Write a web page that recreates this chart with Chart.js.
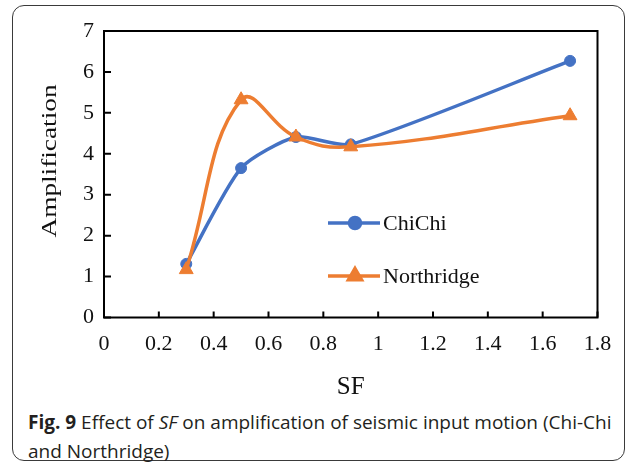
<!DOCTYPE html>
<html>
<head>
<meta charset="utf-8">
<script src="https://cdn.jsdelivr.net/npm/chart.js@4.4.0/dist/chart.umd.min.js"></script>
<style>
  html, body { margin: 0; padding: 0; width: 637px; height: 467px; background: #fff; overflow: hidden; }
  #frame { position: absolute; left: 12px; top: 5px; width: 611px; height: 454px;
           border: 1.5px solid #3a3a3a; border-radius: 12px; }
  #wrap { position: absolute; left: 0; top: 0; width: 637px; height: 404px; }
  #caption { position: absolute; left: 28px; top: 408px; width: 600px;
             font-family: "Open Sans", sans-serif; font-size: 19px; line-height: 29px; color: #231f20;
             white-space: nowrap; }
  #caption b { font-weight: 700; }
</style>
</head>
<body>
<div id="frame"></div>
<div id="wrap"><canvas id="c" width="637" height="404"></canvas></div>
<div id="caption"><b>Fig. 9</b> Effect of <i>SF</i> on amplification of seismic input motion (Chi-Chi<br>and Northridge)</div>
<script>
const sfValues = [0.3, 0.5, 0.7, 0.9, 1.7];
const chichi = [1.31, 3.65, 4.41, 4.23, 6.27];
const northridge = [1.17, 5.32, 4.41, 4.17, 4.93];
const xTickLabels = ["0", "0.2", "0.4", "0.6", "0.8", "1", "1.2", "1.4", "1.6", "1.8"];
const yTickLabels = ["0", "1", "2", "3", "4", "5", "6", "7"];
const seriesNames = ["ChiChi", "Northridge"];
const xTitle = "SF";
const yTitle = "Amplification";

const BLUE = "#4472C4";
const ORANGE = "#ED7D31";
const SERIF = "'Liberation Serif', 'Times New Roman', serif";

const frameAndLegend = {
  id: "frameAndLegend",
  beforeDatasetsDraw(chart) {
    const { ctx, chartArea: a, scales } = chart;
    ctx.save();
    ctx.strokeStyle = "#000";
    ctx.lineWidth = 2;
    // inward tick marks
    ctx.beginPath();
    scales.x.ticks.forEach(t => {
      const px = scales.x.getPixelForValue(t.value);
      ctx.moveTo(px, a.bottom);
      ctx.lineTo(px, a.bottom - 6);
    });
    scales.y.ticks.forEach(t => {
      const py = scales.y.getPixelForValue(t.value);
      ctx.moveTo(a.left, py);
      ctx.lineTo(a.left + 7, py);
    });
    ctx.stroke();
    ctx.strokeRect(a.left, a.top, a.right - a.left, a.bottom - a.top);
    // y title (stretched along its length like the reference)
    ctx.fillStyle = "#111";
    ctx.font = "21px " + SERIF;
    ctx.textAlign = "center";
    ctx.textBaseline = "middle";
    ctx.translate(50, 161);
    ctx.rotate(-Math.PI / 2);
    ctx.scale(1.3, 1);
    ctx.fillText(yTitle, 0, 0);
    ctx.restore();
  },
  afterDatasetsDraw(chart) {
    const { ctx } = chart;
    const items = [
      { name: seriesNames[0], color: BLUE, style: "circle", r: 5.5, y: 223 },
      { name: seriesNames[1], color: ORANGE, style: "triangle", r: 7.5, y: 276 }
    ];
    ctx.save();
    items.forEach(it => {
      ctx.strokeStyle = it.color;
      ctx.lineWidth = 3.5;
      ctx.beginPath();
      ctx.moveTo(328, it.y);
      ctx.lineTo(380, it.y);
      ctx.stroke();
      ctx.fillStyle = it.color;
      Chart.helpers.drawPoint(ctx, { pointStyle: it.style, radius: it.r, borderWidth: 1, rotation: 0 }, 355, it.y);
      ctx.fill();
      ctx.fillStyle = "#111";
      ctx.font = "22px " + SERIF;
      ctx.textAlign = "left";
      ctx.textBaseline = "middle";
      ctx.fillText(it.name, 383, it.y + 1);
    });
    ctx.restore();
  }
};

new Chart(document.getElementById("c"), {
  type: "line",
  data: {
    datasets: [
      {
        label: seriesNames[0],
        data: sfValues.map((x, i) => ({ x, y: chichi[i] })),
        borderColor: BLUE, backgroundColor: BLUE,
        borderWidth: 3.5, pointStyle: "circle", pointRadius: 5.5,
        pointBorderWidth: 1, tension: 0.22, order: 2
      },
      {
        label: seriesNames[1],
        data: sfValues.map((x, i) => ({ x, y: northridge[i] })),
        borderColor: ORANGE, backgroundColor: ORANGE,
        borderWidth: 3.5, pointStyle: "triangle", pointRadius: 8,
        pointBorderWidth: 1, tension: 0.42, order: 1
      }
    ]
  },
  options: {
    responsive: false,
    animation: false,
    events: [],
    layout: { padding: { left: 0, top: 31, right: 39.5, bottom: 0 } },
    plugins: { legend: { display: false }, tooltip: { enabled: false } },
    scales: {
      x: {
        type: "linear", min: 0, max: 1.8,
        afterFit(s) { s.height = 86.5; },
        afterBuildTicks(s) { s.ticks = xTickLabels.map(v => ({ value: parseFloat(v) })); },
        ticks: {
          callback: (v, i) => xTickLabels[i],
          color: "#111", font: { family: SERIF, size: 22 }, padding: 14, maxRotation: 0, autoSkip: false
        },
        grid: { display: false, drawTicks: false },
        border: { display: false },
        title: { display: true, text: xTitle, color: "#111", font: { family: SERIF, size: 25 }, padding: { top: 0, bottom: 2 } }
      },
      y: {
        type: "linear", min: 0, max: 7,
        afterFit(s) { s.width = 104; },
        afterBuildTicks(s) { s.ticks = yTickLabels.map(v => ({ value: parseFloat(v) })); },
        ticks: {
          callback: (v, i) => yTickLabels[i],
          color: "#111", font: { family: SERIF, size: 22 }, padding: 10, autoSkip: false
        },
        grid: { display: false, drawTicks: false },
        border: { display: false },
        title: { display: false }
      }
    }
  },
  plugins: [frameAndLegend]
});
</script>
</body>
</html>
